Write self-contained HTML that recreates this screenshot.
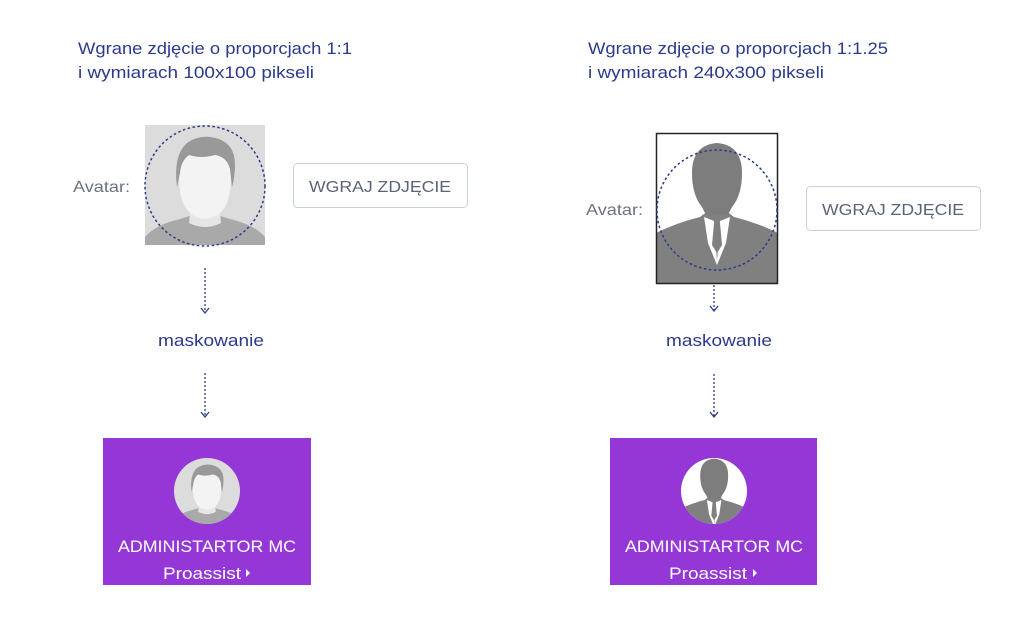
<!DOCTYPE html>
<html><head><meta charset="utf-8"><style>
html,body{margin:0;padding:0;background:#fff;}
svg{display:block;}
text{font-family:"Liberation Sans",sans-serif;}
</style></head><body>
<svg width="1024" height="637" viewBox="0 0 1024 637" xmlns="http://www.w3.org/2000/svg">
<defs>
<g id="man">
  <rect x="0" y="0" width="120" height="120" fill="#dcdcdc"/>
  <path d="M0,120 L0,112 Q10,100 35,94 L48,90 L72,90 L85,94 Q110,100 120,112 L120,120 Z" fill="#a9a9a9"/>
  <path d="M46,78 L74,78 L76,98 Q60,106 44,98 Z" fill="#e6e6e6"/>
  <path d="M34,52 Q34,92 60,94 Q86,92 86,52 Q86,26 60,26 Q34,26 34,52 Z" fill="#f3f3f3"/>
  <path d="M32,62 Q28,30 42,18 Q56,8 74,14 Q90,20 90,40 Q90,52 87,62 L85,44 Q82,32 70,30 Q56,34 44,30 Q36,36 35,48 Z" fill="#999"/>
</g>
<g id="suit">
  <rect x="0" y="0" width="122" height="150" fill="#fff"/>
  <rect x="0" y="100" width="122" height="50" fill="#808080"/>
  <path d="M0,100 Q20,90 44,84 L52,78 L70,78 L78,84 Q102,90 122,100 Z" fill="#808080"/>
  <path d="M36,40 Q36,12 61,10 Q86,12 86,40 Q86,62 76,74 L72,82 L50,82 L46,74 Q36,62 36,40 Z" fill="#7d7d7d"/>
  <path d="M48,84 L58,88 L61,128 L64,88 L74,84 L70,110 L61,132 L52,110 Z" fill="#fff"/>
  <path d="M58,90 L64,90 L66,112 L61,120 L56,112 Z" fill="#808080"/>
</g>
<clipPath id="c1"><circle cx="207" cy="491" r="33"/></clipPath>
<clipPath id="c2"><circle cx="714" cy="491" r="33"/></clipPath>
</defs>

<!-- LEFT -->
<text x="78" y="54" font-size="17" fill="#2b3a8c" textLength="274" lengthAdjust="spacingAndGlyphs">Wgrane zdjęcie o proporcjach 1:1</text>
<text x="78" y="78" font-size="17" fill="#2b3a8c" textLength="236" lengthAdjust="spacingAndGlyphs">i wymiarach 100x100 pikseli</text>
<text x="73" y="192" font-size="16" fill="#6b7280" textLength="57" lengthAdjust="spacingAndGlyphs">Avatar:</text>
<use href="#man" x="145" y="125"/>
<circle cx="205" cy="186" r="60" fill="none" stroke="#2b3a8c" stroke-width="1.5" stroke-dasharray="2.5 2.5"/>
<rect x="293.5" y="163.5" width="174" height="44" rx="4" fill="#fff" stroke="#c9d0df"/>
<text x="380" y="192" font-size="16" fill="#5a6478" text-anchor="middle" textLength="142" lengthAdjust="spacingAndGlyphs">WGRAJ ZDJĘCIE</text>
<line x1="205" y1="268" x2="205" y2="312" stroke="#2b3a8c" stroke-width="1.3" stroke-dasharray="2 2"/>
<path d="M201,308 L205,313 L209,308" fill="none" stroke="#2b3a8c" stroke-width="1.3"/>
<text x="211" y="346" font-size="17" fill="#2b3a8c" text-anchor="middle" textLength="106" lengthAdjust="spacingAndGlyphs">maskowanie</text>
<line x1="205" y1="373" x2="205" y2="416" stroke="#2b3a8c" stroke-width="1.3" stroke-dasharray="2 2"/>
<path d="M201,412 L205,417 L209,412" fill="none" stroke="#2b3a8c" stroke-width="1.3"/>
<rect x="103" y="438" width="208" height="147" fill="#9537d6"/>
<g clip-path="url(#c1)"><use href="#man" transform="translate(174,458) scale(0.55)"/></g>
<text x="207" y="552" font-size="17" fill="#fff" text-anchor="middle" textLength="178" lengthAdjust="spacingAndGlyphs">ADMINISTARTOR MC</text>
<text x="163" y="579" font-size="17" fill="#fff" textLength="78" lengthAdjust="spacingAndGlyphs">Proassist</text>
<path d="M246,569 L250,573 L246,577 Z" fill="#fff"/>

<!-- RIGHT -->
<text x="588" y="54" font-size="17" fill="#2b3a8c" textLength="300" lengthAdjust="spacingAndGlyphs">Wgrane zdjęcie o proporcjach 1:1.25</text>
<text x="588" y="78" font-size="17" fill="#2b3a8c" textLength="236" lengthAdjust="spacingAndGlyphs">i wymiarach 240x300 pikseli</text>
<text x="586" y="215" font-size="16" fill="#6b7280" textLength="57" lengthAdjust="spacingAndGlyphs">Avatar:</text>
<use href="#suit" x="656" y="133"/>
<rect x="656.5" y="133.5" width="121" height="150" fill="none" stroke="#222" stroke-width="1.5"/>
<circle cx="717" cy="210" r="60" fill="none" stroke="#2b3a8c" stroke-width="1.5" stroke-dasharray="2.5 2.5"/>
<rect x="806.5" y="186.5" width="174" height="44" rx="4" fill="#fff" stroke="#c9d0df"/>
<text x="893" y="215" font-size="16" fill="#5a6478" text-anchor="middle" textLength="142" lengthAdjust="spacingAndGlyphs">WGRAJ ZDJĘCIE</text>
<line x1="714" y1="285" x2="714" y2="310" stroke="#2b3a8c" stroke-width="1.3" stroke-dasharray="2 2"/>
<path d="M710,306 L714,311 L718,306" fill="none" stroke="#2b3a8c" stroke-width="1.3"/>
<text x="719" y="346" font-size="17" fill="#2b3a8c" text-anchor="middle" textLength="106" lengthAdjust="spacingAndGlyphs">maskowanie</text>
<line x1="714" y1="374" x2="714" y2="416" stroke="#2b3a8c" stroke-width="1.3" stroke-dasharray="2 2"/>
<path d="M710,412 L714,417 L718,412" fill="none" stroke="#2b3a8c" stroke-width="1.3"/>
<rect x="610" y="438" width="207" height="147" fill="#9537d6"/>
<g clip-path="url(#c2)"><use href="#suit" transform="translate(680,453) scale(0.56)"/></g>
<text x="714" y="552" font-size="17" fill="#fff" text-anchor="middle" textLength="178" lengthAdjust="spacingAndGlyphs">ADMINISTARTOR MC</text>
<text x="669" y="579" font-size="17" fill="#fff" textLength="78" lengthAdjust="spacingAndGlyphs">Proassist</text>
<path d="M753,569 L757,573 L753,577 Z" fill="#fff"/>
</svg>
</body></html>
